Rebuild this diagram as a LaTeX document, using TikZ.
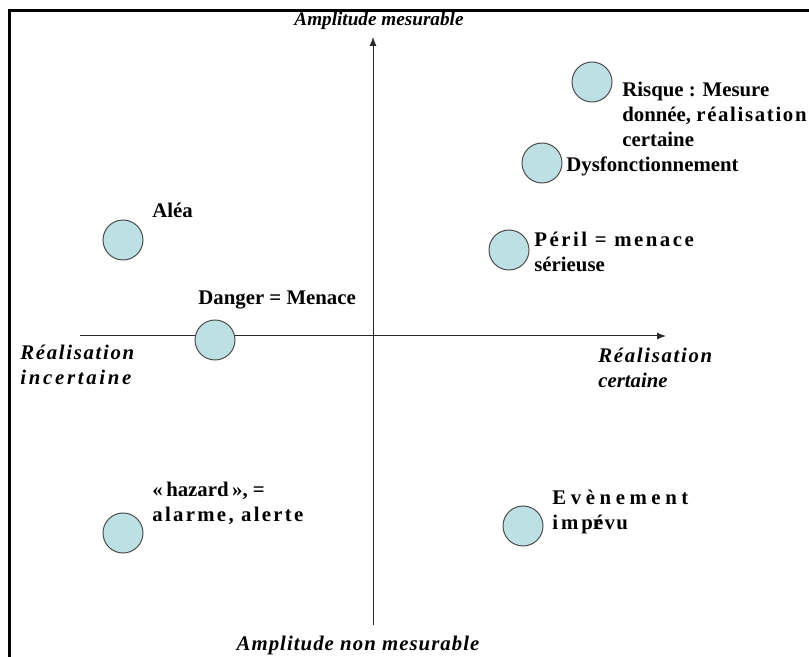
\documentclass[tikz,border=0pt]{standalone}
\usepackage{fontspec}
\setmainfont{Liberation Serif}
\usetikzlibrary{positioning,arrows.meta}
\definecolor{ptfill}{RGB}{188,224,228}
\definecolor{axisgray}{RGB}{40,40,40}
\newcommand{\spaced}[2][8]{{\addfontfeature{LetterSpace=#1}#2}}

\begin{document}
\begin{tikzpicture}[
x=0.5pt,
y=-0.5pt,
blob/.style={
  draw=black!70,
  fill=ptfill,
  circle,
  line width=0.5pt,
  minimum size=20pt,
  inner sep=0pt
  },
txt/.style={
  font=\fontsize{10.4}{12.5}\selectfont\bfseries,
  align=left,
  anchor=base west,
  inner sep=0pt
  },
axlbl/.style={
  font=\fontsize{10.4}{12.5}\selectfont\bfseries\itshape,
  inner sep=0pt
  },
axline/.style={
  draw=axisgray,
  line width=0.5pt
  },
>={Latex[length=4.5pt,width=3.5pt]}
]
\useasboundingbox (0,0) rectangle (809,657);

% cadre (coupe a droite et en bas)
\draw[line width=1.5pt] (9,657) -- (9,11) -- (809,11);

% axes
\coordinate (xs) at (80,336);
\coordinate (xe) at (666,336);
\coordinate (ys) at (373,625);
\coordinate (ye) at (373,37);
\draw[axline,->] (xs) -- (xe);
\draw[axline,->] (ys) -- (ye);

% (base = derniere ligne)
\node[axlbl,anchor=base,font=\fontsize{9.6}{12.5}\selectfont\bfseries\itshape] (ampm) at (379,26) {Amplitude mesurable};
\node[axlbl,anchor=base] (ampnm) at (358,650) {\spaced[5]{Amplitude non mesurable}};
\node[axlbl,anchor=base west,align=left] (rinc) at (20,385) {\spaced{Réalisation}\\\spaced[13]{incertaine}};
\node[axlbl,anchor=base west,align=left] (rcer) at (598,388) {\spaced{Réalisation}\\certaine};

% points
\node[blob] (risque) at (592,82) {};
\node[blob] (dysf) at (542,163) {};
\node[blob] (alea) at (123,240) {};
\node[blob] (peril) at (509,250) {};
\node[blob] (danger) at (215,340) {};
\node[blob] (hazard) at (123,533) {};
\node[blob] (event) at (523,526) {};

\node[txt] (risque-t) at (622,147) {Risque : Mesure\\donnée, \spaced{réalisation}\\certaine};
\node[txt] (dysf-t) at (566,172) {Dysfonctionnement};
\node[txt] (alea-t) at (152,218) {Aléa};
\node[txt] (peril-t) at (534,272) {\spaced[12]{Péril = menace}\\sérieuse};
\node[txt] (danger-t) at (198,305) {Danger = Menace};
\node[txt] (hazard-t) at (152,522) {«\,hazard\,», =\\\spaced[11]{alarme, alerte}};
\node[txt] (event-t) at (552,530) {\spaced[22]{Evènement}\\\spaced[14]{imp}r\kern-4pt\spaced[6]{évu}};

\end{tikzpicture}
\end{document}
